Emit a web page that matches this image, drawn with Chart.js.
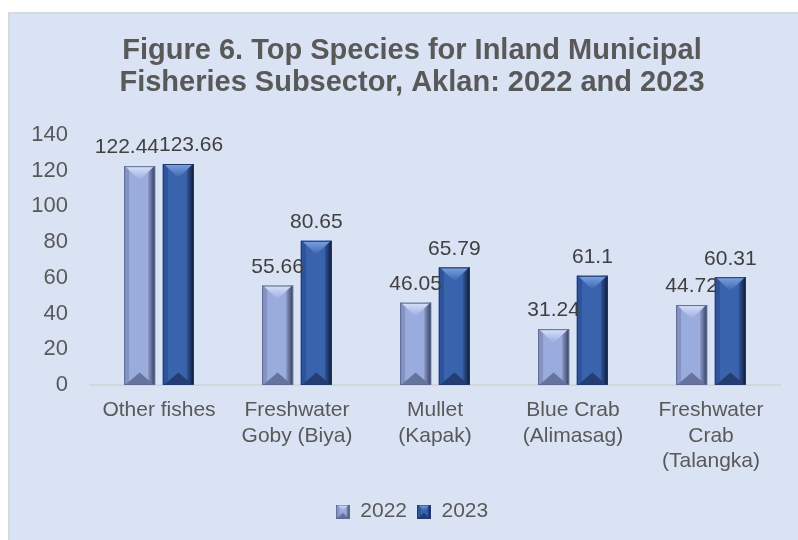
<!DOCTYPE html>
<html>
<head>
<meta charset="utf-8">
<script src="https://cdn.jsdelivr.net/npm/chart.js@4/dist/chart.umd.min.js"></script>
<style>
  html, body { margin: 0; padding: 0; background: #fff; overflow: hidden; }
  .panel {
    position: absolute; left: 8px; top: 12px; width: 800px; height: 540px;
    box-sizing: border-box; border: 2px solid #d6d9de; background: #dae3f3;
  }
  .panel canvas { display: block; }
</style>
</head>
<body>
<div class="panel"><canvas id="chart" width="786" height="524"></canvas></div>
<script>
// Top species, inland municipal fisheries, Aklan
const species = [
  ["Other fishes"],
  ["Freshwater", "Goby (Biya)"],
  ["Mullet", "(Kapak)"],
  ["Blue Crab", "(Alimasag)"],
  ["Freshwater", "Crab", "(Talangka)"],
];
const years = ["2022", "2023"];
const vol2022 = [122.44, 55.66, 46.05, 31.24, 44.72];
const vol2023 = [123.66, 80.65, 65.79, 61.1, 60.31];
const yTicks = [0, 20, 40, 60, 80, 100, 120, 140];

const FONT = "'Liberation Sans', Arial, sans-serif";

// bevel palette per series
const shades = [
  { outline: "#5d6a92", left: "#8493c2", body: "#9aabde", right: "#8a99c8", shade: "#363d58",
    top: "#d8e2fb", bottom: "#66739c" },
  { outline: "#203a6e", left: "#2f539a", body: "#3a63ad", right: "#2f559c", shade: "#0f1a33",
    top: "#7ca3e2", bottom: "#243e74" },
];

function paintBevel(ctx, L, R, T, B, s) {
  const w = R - L, h = B - T, cx = (L + R) / 2;
  const bl = Math.min(5, w / 4), br = Math.min(7, w / 4);
  const d = Math.min(w * 0.45, h / 2);
  ctx.fillStyle = s.body;
  ctx.fillRect(L, T, w, h);
  // left face
  ctx.fillStyle = s.left;
  ctx.fillRect(L, T, bl, h);
  // right face
  const gr = ctx.createLinearGradient(R - br, 0, R, 0);
  gr.addColorStop(0, s.right);
  gr.addColorStop(1, s.shade);
  ctx.fillStyle = gr;
  ctx.fillRect(R - br, T, br, h);
  // top face
  const gt = ctx.createLinearGradient(0, T, 0, T + d);
  gt.addColorStop(0, s.top);
  gt.addColorStop(1, s.body);
  ctx.fillStyle = gt;
  ctx.beginPath();
  ctx.moveTo(L + 1, T); ctx.lineTo(R - 1, T); ctx.lineTo(cx, T + d); ctx.closePath();
  ctx.fill();
  // bottom face
  ctx.fillStyle = s.bottom;
  ctx.beginPath();
  ctx.moveTo(L + 1, B); ctx.lineTo(R - 1, B); ctx.lineTo(cx, B - d * 0.9); ctx.closePath();
  ctx.fill();
  // outline
  ctx.strokeStyle = s.outline;
  ctx.lineWidth = 1;
  ctx.strokeRect(L + 0.5, T + 0.5, w - 1, h - 1);
}

function legendSwatch(s) {
  const c = document.createElement("canvas");
  c.width = 14; c.height = 14;
  paintBevel(c.getContext("2d"), 0, 14, 0, 14, s);
  return c;
}

// bevel look + value labels drawn over each bar element
const bevelBars = {
  id: "bevelBars",
  afterDatasetsDraw(chart) {
    const ctx = chart.ctx;
    ctx.save();
    chart.data.datasets.forEach((ds, di) => {
      chart.getDatasetMeta(di).data.forEach((bar) => {
        const p = bar.getProps(["x", "y", "base", "width"], true);
        paintBevel(ctx, p.x - p.width / 2, p.x + p.width / 2, p.y, p.base, shades[di]);
      });
    });
    ctx.font = "21px " + FONT;
    ctx.fillStyle = "#404040";
    ctx.textAlign = "center";
    ctx.textBaseline = "bottom";
    const a = chart.getDatasetMeta(0).data, b = chart.getDatasetMeta(1).data;
    for (let i = 0; i < chart.data.labels.length; i++) {
      const ta = String(vol2022[i]), tb = String(vol2023[i]);
      const pa = a[i].getProps(["x", "y"], true), pb = b[i].getProps(["x", "y"], true);
      let xa = pa.x, xb = pb.x;
      // push the pair apart when both labels sit at about the same height
      if (Math.abs(pa.y - pb.y) < 22) {
        const need = (ctx.measureText(ta).width + ctx.measureText(tb).width) / 2;
        const over = need - (xb - xa);
        if (over > 0) { xa -= over / 2; xb += over / 2; }
      }
      ctx.fillText(ta, xa, pa.y - 8);
      ctx.fillText(tb, xb, pb.y - 8);
    }
    ctx.restore();
  },
};

new Chart(document.getElementById("chart"), {
  type: "bar",
  data: {
    labels: species,
    datasets: [
      { label: years[0], data: vol2022, backgroundColor: shades[0].body, pointStyle: legendSwatch(shades[0]) },
      { label: years[1], data: vol2023, backgroundColor: shades[1].body, pointStyle: legendSwatch(shades[1]) },
    ],
  },
  options: {
    responsive: false,
    animation: false,
    events: [],
    datasets: { bar: { categoryPercentage: 0.562, barPercentage: 0.8 } },
    layout: { padding: { left: 18, right: 0, top: 0, bottom: 6 } },
    scales: {
      x: {
        grid: { display: false, drawTicks: false },
        border: { display: true, color: "#d3d6da", width: 2 },
        ticks: { color: "#595959", font: { family: FONT, size: 21, lineHeight: 1.2 }, padding: 13, maxRotation: 0, autoSkip: false },
        afterFit: (s) => { s.height = 106; },
      },
      y: {
        min: 0, max: 140,
        afterBuildTicks: (s) => { s.ticks = yTicks.map((v) => ({ value: v })); },
        grid: { display: false, drawTicks: false },
        border: { display: false },
        ticks: { color: "#595959", font: { family: FONT, size: 22 }, padding: 22 },
        afterFit: (s) => { s.width = 62; },
      },
      // empty gutter on the right of the plot
      gutter: {
        type: "linear", position: "right",
        grid: { display: false, drawTicks: false },
        border: { display: false },
        ticks: { display: false },
        afterFit: (s) => { s.width = 16; },
      },
    },
    plugins: {
      title: {
        display: true,
        text: ["Figure 6. Top Species for Inland Municipal", "Fisheries Subsector, Aklan: 2022 and 2023"],
        color: "#595959",
        font: { family: FONT, size: 29, weight: "bold", lineHeight: 1.1 },
        padding: { top: 21, bottom: 36 },
      },
      legend: {
        position: "bottom",
        labels: {
          usePointStyle: true,
          color: "#595959",
          font: { family: FONT, size: 21 },
          padding: 10,
          boxWidth: 14, boxHeight: 14,
        },
      },
      tooltip: { enabled: false },
    },
  },
  plugins: [bevelBars],
});
</script>
</body>
</html>
